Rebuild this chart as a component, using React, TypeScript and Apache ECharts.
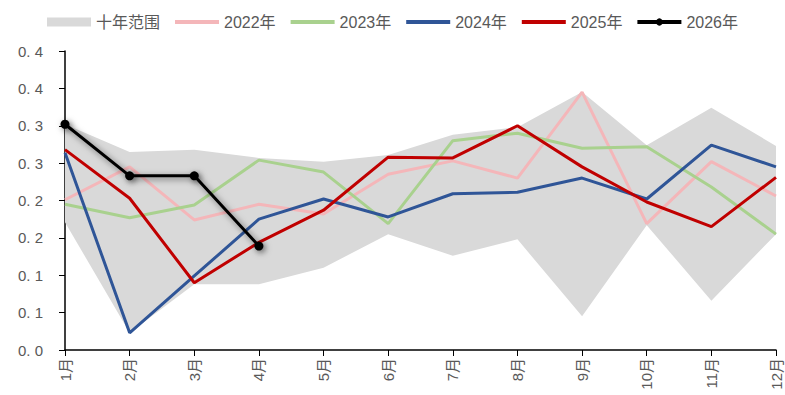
import React, { useEffect, useRef } from "react";
import * as echarts from "echarts";

const months = ["1月", "2月", "3月", "4月", "5月", "6月", "7月", "8月", "9月", "10月", "11月", "12月"];
const rangeLow = [0.171, 0.023, 0.088, 0.088, 0.110, 0.155, 0.126, 0.148, 0.045, 0.167, 0.066, 0.155];
const rangeHigh = [0.302, 0.265, 0.268, 0.257, 0.252, 0.261, 0.288, 0.298, 0.345, 0.274, 0.324, 0.273];
const y2022 = [0.201, 0.245, 0.174, 0.195, 0.182, 0.235, 0.253, 0.230, 0.345, 0.169, 0.252, 0.206];
const y2023 = [0.195, 0.177, 0.194, 0.254, 0.238, 0.169, 0.280, 0.290, 0.270, 0.272, 0.218, 0.155];
const y2024 = [0.264, 0.023, 0.099, 0.175, 0.202, 0.178, 0.209, 0.211, 0.230, 0.202, 0.274, 0.245];
const y2025 = [0.268, 0.203, 0.090, 0.144, 0.187, 0.258, 0.257, 0.300, 0.245, 0.198, 0.165, 0.231];
const y2026 = [0.302, 0.233, 0.233, 0.139];

export default function App() {
  const ref = useRef<HTMLDivElement>(null);
  useEffect(() => {
    if (!ref.current) return;
    const chart = echarts.init(ref.current, undefined, { renderer: "svg" });
    const diff = rangeHigh.map((h, i) => +(h - rangeLow[i]).toFixed(3));
    const lineSeries = (name: string, data: number[], color: string) => ({
      name,
      type: "line",
      data,
      symbol: "none",
      lineStyle: { color, width: 3 },
      itemStyle: { color },
      z: 3,
    });
    const noSym = (name: string) => ({ name, itemStyle: { opacity: 0 }, lineStyle: { width: 4 } });
    chart.setOption({
      animation: false,
      textStyle: { fontFamily: "Liberation Sans, Noto Sans CJK SC, sans-serif" },
      legend: {
        top: 9,
        left: "center",
        itemWidth: 44,
        itemHeight: 9,
        itemGap: 13,
        textStyle: { fontSize: 16, color: "#595959" },
        data: [
          { name: "十年范围", icon: "rect" },
          noSym("2022年"),
          noSym("2023年"),
          noSym("2024年"),
          noSym("2025年"),
          { name: "2026年", lineStyle: { width: 4 } },
        ],
      },
      grid: { left: 65, right: 9, top: 51, bottom: 45, containLabel: false },
      xAxis: {
        type: "category",
        data: months,
        boundaryGap: false,
        axisLine: { lineStyle: { color: "#000", width: 1.5 } },
        axisTick: { show: true, alignWithLabel: true, length: 6, lineStyle: { color: "#000" } },
        axisLabel: { rotate: 90, fontSize: 15, color: "#595959", margin: 8, interval: 0 },
        splitLine: { show: false },
      },
      yAxis: {
        type: "value",
        min: 0,
        max: 0.4,
        interval: 0.05,
        axisLine: { show: true, lineStyle: { color: "#000", width: 1.5 } },
        axisTick: { show: true, length: 6, lineStyle: { color: "#000" } },
        splitLine: { show: false },
        axisLabel: {
          fontSize: 15,
          color: "#595959",
          margin: 22,
          formatter: (v: number) => {
            const s = (Math.round(v * 10 + 1e-9) / 10).toFixed(1);
            return s.replace(".", ". ");
          },
        },
      },
      series: [
        {
          name: "range_low",
          type: "line",
          data: rangeLow,
          stack: "range",
          symbol: "none",
          lineStyle: { width: 0, opacity: 0 },
          areaStyle: { opacity: 0 },
          silent: true,
          z: 1,
        },
        {
          name: "十年范围",
          type: "line",
          data: diff,
          stack: "range",
          symbol: "none",
          lineStyle: { width: 0, opacity: 0 },
          itemStyle: { color: "#d9d9d9" },
          areaStyle: { color: "#d9d9d9", opacity: 1 },
          z: 1,
        },
        lineSeries("2022年", y2022, "#f4b6b9"),
        lineSeries("2023年", y2023, "#a9d18e"),
        lineSeries("2024年", y2024, "#2f5597"),
        lineSeries("2025年", y2025, "#c00000"),
        {
          name: "2026年",
          type: "line",
          data: y2026,
          symbol: "circle",
          symbolSize: 9,
          lineStyle: {
            color: "#000",
            width: 3,
            shadowColor: "rgba(0,0,0,0.55)",
            shadowBlur: 6,
            shadowOffsetX: 2,
            shadowOffsetY: 2,
          },
          itemStyle: {
            color: "#000",
            shadowColor: "rgba(0,0,0,0.55)",
            shadowBlur: 6,
            shadowOffsetX: 2,
            shadowOffsetY: 2,
          },
          z: 5,
        },
      ],
    });
    return () => chart.dispose();
  }, []);
  return <div ref={ref} style={{ width: 785, height: 395, position: "absolute", left: 0, top: 0 }} />;
}
